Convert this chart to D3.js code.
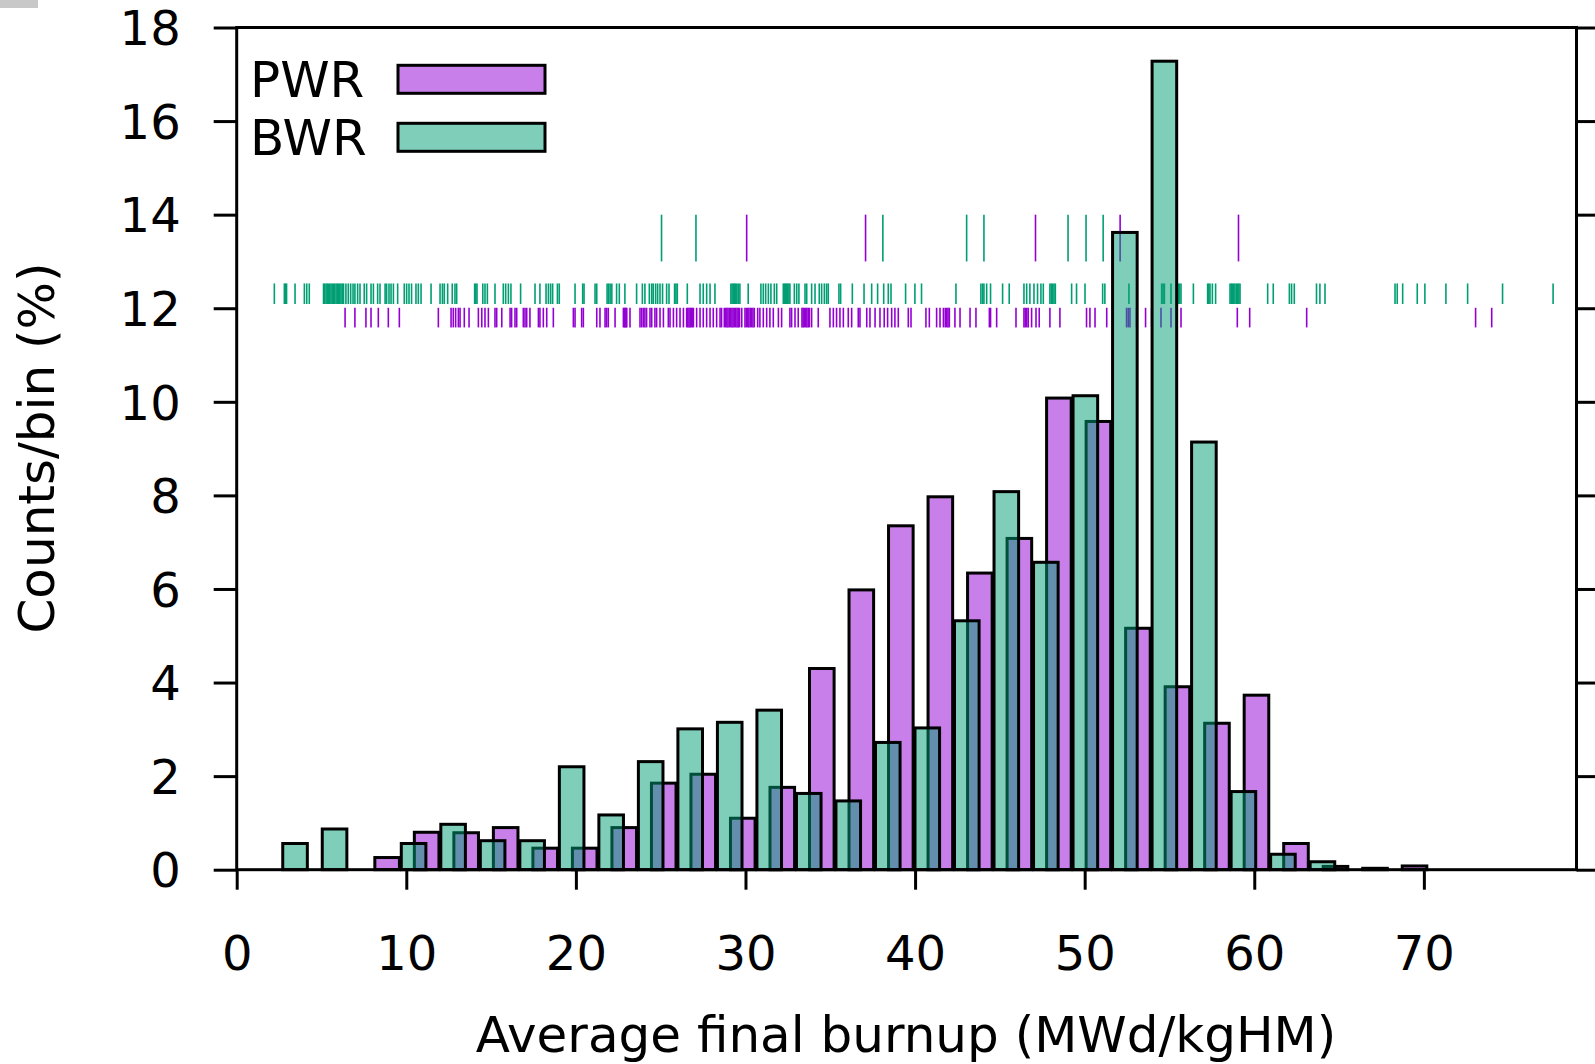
<!doctype html>
<html lang="en">
<head>
  <style>
    body { margin: 0; background: #fff; }
    text { font-family: "DejaVu Sans", sans-serif; font-size: 50px; fill: #000; }
    .tick text { font-size: 48px; }
  </style>
  <script src="https://d3js.org/d3.v7.min.js"></script>
</head>
<body>
  <script>
    // histogram bins (centres in MWd/kgHM) and counts/bin in %
    const pwrBins = [8.87, 11.20, 13.53, 15.86, 18.19, 20.52, 22.85, 25.18, 27.51, 29.84, 32.17, 34.50, 36.83, 39.16,
      41.49, 43.82, 46.15, 48.48, 50.81, 53.14, 55.47, 57.80, 60.13, 62.46, 64.79, 67.12, 69.45];
    const pwrValues = [0.26, 0.80, 0.79, 0.90, 0.46, 0.46, 0.90, 1.85, 2.04, 1.10, 1.76, 4.30, 5.98, 7.35,
      7.97, 6.34, 7.08, 10.08, 9.58, 5.16, 3.91, 3.13, 3.73, 0.56, 0.07, 0.03, 0.08];
    const bwrBins = [3.44, 5.77, 8.10, 10.43, 12.76, 15.09, 17.42, 19.75, 22.08, 24.41, 26.74, 29.07, 31.40, 33.73,
      36.06, 38.39, 40.72, 43.05, 45.38, 47.71, 50.04, 52.37, 54.70, 57.03, 59.36, 61.69, 64.02];
    const bwrValues = [0.56, 0.87, 0, 0.56, 0.97, 0.62, 0.62, 2.20, 1.17, 2.31, 3.01, 3.15, 3.41, 1.63,
      1.47, 2.72, 3.03, 5.32, 8.08, 6.57, 10.13, 13.62, 17.28, 9.14, 1.67, 0.33, 0.17];

    // individual burnups (rug rows)
    const bwrRug = [2.22, 2.81, 2.88, 2.94, 3.44, 3.99, 4.13, 4.28,
      5.12, 5.19, 5.27, 5.34, 5.41, 5.49, 5.56, 5.63, 5.71, 5.78, 5.86, 5.93, 6.0, 6.08, 6.15, 6.23, 6.3,
      6.44, 6.58, 6.72, 6.86, 6.97, 7.13, 7.27, 7.52, 7.66, 7.92, 8.06, 8.31, 8.45, 8.75, 8.84, 8.98, 9.10, 9.24,
      9.49, 9.88, 10.02, 10.16, 10.31, 10.57, 10.71, 10.87, 11.46, 11.99, 12.13, 12.24, 12.44, 12.71, 12.87, 12.97,
      14.03, 14.1, 14.17, 14.51, 14.64, 14.78, 15.23, 15.72, 15.86, 16.02, 16.17, 16.74, 17.59, 17.88, 18.24, 18.38,
      18.51, 18.63, 18.91, 19.02, 19.95, 20.40, 20.48, 21.13, 21.23, 21.84, 21.93, 22.02, 22.12, 22.4, 22.56, 22.89,
      23.58, 23.92, 24.07, 24.33, 24.47, 24.56, 24.70, 24.82, 24.96, 25.11, 25.35, 25.49, 25.82, 25.9, 25.98, 26.57,
      27.32, 27.51, 27.71, 27.91, 28.20, 29.14, 29.21, 29.28, 29.35, 29.41, 29.49, 29.57, 29.67, 30.16, 30.91, 31.05,
      31.19, 31.35, 31.5, 31.7, 31.84, 32.23, 32.3, 32.37, 32.43, 32.49, 32.56, 32.62, 32.88, 33.02, 33.15, 33.51,
      33.61, 33.90, 34.10, 34.35, 34.49, 34.65, 34.78, 34.88, 35.51, 35.61, 36.30, 36.99, 37.44, 37.79, 38.15, 38.42,
      38.58, 39.44, 39.99, 40.38, 42.41, 43.88, 43.98, 44.06, 44.22, 44.45, 45.16, 45.55, 46.42, 46.58, 46.77, 47.01,
      47.22, 47.42, 47.56, 47.95, 48.03, 48.11, 48.19, 48.27, 49.23, 49.52, 50.02, 51.06, 51.19, 52.61, 54.54, 54.62,
      54.70, 55.09, 55.52, 55.6, 55.68, 56.41, 57.25, 57.32, 57.39, 57.53, 57.72, 58.57, 58.64, 58.71, 58.79, 58.86,
      58.94, 59.02, 59.09, 59.16, 60.79, 61.12, 62.07, 62.2, 62.36, 63.67, 63.87, 64.17, 68.30, 68.43, 68.75, 69.61,
      70.06, 71.30, 72.58, 74.64, 77.62];
    const pwrRug = [6.39, 6.97, 7.62, 7.92, 8.35, 8.94, 9.59, 11.89, 12.64, 12.77, 12.91, 13.07, 13.17, 13.42, 13.70,
      14.25, 14.45, 14.64, 14.84, 15.23, 15.33, 15.63, 16.12, 16.21, 16.41, 16.51, 16.90, 17.0, 17.10, 17.29, 17.79,
      17.88, 18.08, 18.28, 18.67, 19.85, 19.95, 20.34, 20.44, 21.23, 21.42, 21.72, 21.81, 21.91, 22.31, 22.80, 22.85,
      22.9, 22.95, 23.0, 23.19, 23.78, 23.88, 23.98, 24.07, 24.17, 24.37, 24.47, 24.66, 24.76, 24.96, 25.16, 25.45,
      25.55, 25.75, 25.94, 26.14, 26.34, 26.53, 26.6, 26.67, 26.74, 26.81, 26.87, 26.93, 27.12, 27.32, 27.51, 27.71,
      27.91, 28.10, 28.30, 28.50, 28.59, 28.75, 28.82, 28.9, 28.97, 29.05, 29.12, 29.2, 29.27, 29.35, 29.42, 29.5,
      29.57, 29.65, 29.78, 29.97, 30.05, 30.13, 30.2, 30.28, 30.36, 30.44, 30.52, 30.72, 30.85, 31.05, 31.25, 31.44,
      31.64, 31.94, 32.13, 32.62, 32.72, 32.92, 33.11, 33.33, 33.4, 33.47, 33.55, 33.62, 33.7, 33.77, 33.90, 34.29,
      34.98, 35.18, 35.37, 35.57, 35.77, 36.06, 36.26, 36.65, 36.75, 37.15, 37.34, 37.64, 37.93, 38.18, 38.38, 38.62,
      38.81, 39.01, 39.60, 39.76, 40.64, 40.84, 41.27, 41.47, 41.67, 41.78, 41.86, 41.94, 42.02, 42.35, 42.65, 43.24,
      43.59, 44.38, 44.45, 44.81, 45.95, 46.42, 46.5, 46.58, 46.67, 46.87, 47.13, 47.32, 47.95, 48.54, 50.11, 50.31,
      50.61, 51.3, 52.47, 52.57, 52.67, 53.06, 53.59, 53.95, 54.50, 55.09, 55.68, 59.0, 59.73, 63.09, 73.05, 74.0];
    const bwrTop = [25.05, 27.08, 38.1, 43.04, 44.06, 49.02, 50.08, 51.09];
    const pwrTop = [30.07, 37.08, 47.1, 52.09, 59.07];

    const xTicks = [0, 10, 20, 30, 40, 50, 60, 70];
    const yTicks = [0, 2, 4, 6, 8, 10, 12, 14, 16, 18];

    const W = 1595, H = 1064;
    const plotL = 236.7, plotR = 1576.5, plotT = 27.5, plotB = 869.7;
    const pwrFill = "rgba(148,0,211,0.5)";
    const bwrFill = "rgba(0,158,115,0.5)";
    const boxW = 1.45;

    const svg = d3.select("body").append("svg")
      .attr("width", W)
      .attr("height", H);

    // stray grey mark in the corner of the original
    svg.append("rect").attr("x", 0).attr("y", 0).attr("width", 38).attr("height", 8).attr("fill", "#c8c8c8");

    const x = d3.scaleLinear().domain([0, 79]).range([plotL, plotR]);
    const y = d3.scaleLinear().domain([0, 18]).range([plotB, plotT]);

    // rug rows
    function rug(vals, color, yc, h) {
      svg.append("g").selectAll("line")
        .data(vals)
        .join("line")
        .attr("x1", d => x(d)).attr("x2", d => x(d))
        .attr("y1", y(yc + h)).attr("y2", y(yc - h))
        .attr("stroke", color)
        .attr("stroke-width", 1.6);
    }
    rug(bwrTop, "#009e73", 13.5, 0.5);
    rug(pwrTop, "#9400d3", 13.5, 0.5);
    rug(bwrRug, "#009e73", 12.31, 0.22);
    rug(pwrRug, "#9400d3", 11.8, 0.21);

    function bars(centers, vals, fill) {
      svg.append("g").selectAll("rect")
        .data(centers.map((c, i) => ({ c, v: vals[i] })).filter(d => d.v > 0))
        .join("rect")
        .attr("x", d => x(d.c - boxW / 2))
        .attr("width", x(boxW) - x(0))
        .attr("y", d => y(d.v))
        .attr("height", d => y(0) - y(d.v))
        .attr("fill", fill)
        .attr("stroke", "#000")
        .attr("stroke-width", 3);
    }
    bars(pwrBins, pwrValues, pwrFill);
    bars(bwrBins, bwrValues, bwrFill);

    // axes
    const axL = svg.append("g")
      .attr("transform", `translate(${plotL},0)`)
      .call(d3.axisLeft(y).tickValues(yTicks).tickSize(23).tickPadding(33).tickFormat(d3.format("d")));
    const axR = svg.append("g")
      .attr("transform", `translate(${plotR},0)`)
      .call(d3.axisRight(y).tickValues(yTicks).tickSize(21).tickFormat(""));
    const axB = svg.append("g")
      .attr("transform", `translate(0,${plotB})`)
      .call(d3.axisBottom(x).tickValues(xTicks).tickSize(20).tickFormat(d3.format("d")));
    [axL, axR, axB].forEach(a => {
      a.select(".domain").remove();
      a.selectAll("line").attr("stroke", "#000").attr("stroke-width", 3);
      a.selectAll("text").attr("font-family", null).attr("font-size", null).attr("fill", null);
    });
    axL.selectAll("text").attr("dy", "0.36em");
    axB.selectAll("text").attr("y", 100).attr("dy", 0);

    svg.append("rect")
      .attr("x", plotL).attr("y", plotT)
      .attr("width", plotR - plotL).attr("height", plotB - plotT)
      .attr("fill", "none").attr("stroke", "#000").attr("stroke-width", 3);

    // legend
    const legend = [{ name: "PWR", fill: pwrFill, yc: 79.3 }, { name: "BWR", fill: bwrFill, yc: 137.3 }];
    legend.forEach(l => {
      svg.append("text").attr("x", 250).attr("y", l.yc + 18).text(l.name);
      svg.append("rect")
        .attr("x", 398).attr("y", l.yc - 14)
        .attr("width", 147).attr("height", 28)
        .attr("fill", l.fill).attr("stroke", "#000").attr("stroke-width", 3);
    });

    svg.append("text")
      .attr("x", 906)
      .attr("y", 1052)
      .attr("text-anchor", "middle")
      .text("Average final burnup (MWd/kgHM)");

    svg.append("text")
      .attr("transform", "translate(54,448) rotate(-90)")
      .attr("text-anchor", "middle")
      .text("Counts/bin (%)");
  </script>
</body>
</html>
